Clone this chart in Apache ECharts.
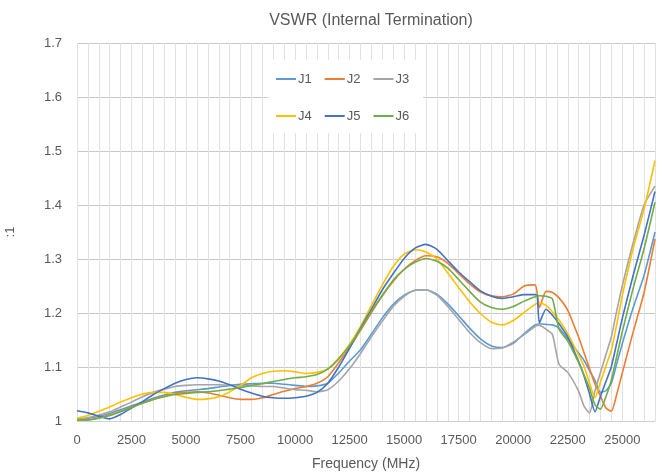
<!DOCTYPE html>
<html>
<head>
<meta charset="utf-8">
<title>VSWR (Internal Termination)</title>
<script src="https://cdn.jsdelivr.net/npm/echarts@6/dist/echarts.min.js"></script>
<style>
  html, body { margin: 0; padding: 0; background: #fff; }
  #chart { width: 658px; height: 474px; }
</style>
</head>
<body>
<div id="chart"></div>
<script>
// frequency points in MHz (shared by all ports)
const freq = [
  0, 500, 1000, 1500, 2000, 2500, 3000, 3500, 4000, 4500, 5000, 5500, 6000, 6500, 7000,
  7500, 8000, 8500, 9000, 9500, 10000, 10500, 11000, 11500, 12000, 12500, 13000, 13500,
  14000, 14500, 15000, 15500, 16000, 16500, 17000, 17500, 18000, 18500, 19000, 19500,
  20000, 20500, 21000, 21100, 21200, 21500, 21800, 22100, 22500, 23000, 23250, 23500,
  23750, 24000, 24250, 24500, 24750, 25000, 25500, 26000, 26500
]

const j1 = [
  1.003, 1.005, 1.009, 1.014, 1.021, 1.028, 1.035, 1.042, 1.048, 1.053, 1.056, 1.058, 1.060, 1.063, 1.066,
  1.068, 1.069, 1.070, 1.070, 1.068, 1.066, 1.064, 1.065, 1.070, 1.089, 1.111, 1.132, 1.161,
  1.191, 1.216, 1.233, 1.242, 1.243, 1.235, 1.217, 1.195, 1.172, 1.152, 1.139, 1.136,
  1.144, 1.162, 1.178, 1.179, 1.180, 1.179, 1.178, 1.172, 1.152, 1.126, 1.112, 1.093,
  1.075, 1.053, 1.056, 1.070, 1.107, 1.143, 1.210, 1.270, 1.350
]
const j2 = [
  1.002, 1.002, 1.006, 1.011, 1.018, 1.026, 1.033, 1.040, 1.046, 1.051, 1.053, 1.054, 1.052, 1.048, 1.043,
  1.040, 1.040, 1.043, 1.049, 1.055, 1.060, 1.064, 1.070, 1.082, 1.108, 1.136, 1.168, 1.201,
  1.232, 1.259, 1.281, 1.297, 1.306, 1.304, 1.292, 1.273, 1.254, 1.239, 1.232, 1.230,
  1.235, 1.250, 1.252, 1.236, 1.210, 1.240, 1.238, 1.228, 1.205, 1.155, 1.126, 1.097,
  1.068, 1.046, 1.024, 1.018, 1.050, 1.089, 1.165, 1.238, 1.337
]
const j3 = [
  1.003, 1.006, 1.011, 1.017, 1.026, 1.035, 1.045, 1.053, 1.059, 1.064, 1.066, 1.067, 1.067, 1.067, 1.066,
  1.065, 1.065, 1.064, 1.064, 1.061, 1.058, 1.057, 1.054, 1.058, 1.074, 1.097, 1.125, 1.156,
  1.185, 1.212, 1.231, 1.242, 1.243, 1.233, 1.212, 1.188, 1.164, 1.145, 1.134, 1.135,
  1.146, 1.160, 1.175, 1.177, 1.177, 1.170, 1.160, 1.105, 1.090, 1.055, 1.027, 1.015,
  1.056, 1.090, 1.123, 1.156, 1.205, 1.250, 1.330, 1.400, 1.435
]
const j4 = [
  1.005, 1.010, 1.018, 1.026, 1.035, 1.043, 1.050, 1.053, 1.053, 1.049, 1.044, 1.040, 1.041, 1.045, 1.054,
  1.066, 1.080, 1.088, 1.092, 1.093, 1.091, 1.088, 1.090, 1.097, 1.116, 1.142, 1.175, 1.214,
  1.252, 1.286, 1.309, 1.317, 1.313, 1.300, 1.274, 1.247, 1.221, 1.199, 1.183, 1.178,
  1.186, 1.201, 1.216, 1.218, 1.219, 1.214, 1.202, 1.187, 1.162, 1.122, 1.101, 1.070,
  1.043, 1.072, 1.102, 1.131, 1.180, 1.232, 1.320, 1.393, 1.482
]
const j5 = [
  1.019, 1.015, 1.009, 1.004, 1.012, 1.024, 1.036, 1.049, 1.060, 1.070, 1.077, 1.080, 1.078, 1.074, 1.067,
  1.059, 1.052, 1.046, 1.043, 1.042, 1.043, 1.046, 1.053, 1.070, 1.100, 1.135, 1.172, 1.207,
  1.243, 1.273, 1.301, 1.320, 1.327, 1.318, 1.297, 1.276, 1.258, 1.241, 1.231, 1.227,
  1.230, 1.234, 1.234, 1.232, 1.182, 1.207, 1.196, 1.180, 1.156, 1.110, 1.083, 1.050,
  1.017, 1.046, 1.073, 1.101, 1.145, 1.190, 1.270, 1.344, 1.425
]
const j6 = [
  1.002, 1.002, 1.005, 1.010, 1.017, 1.025, 1.033, 1.040, 1.045, 1.049, 1.051, 1.053, 1.054, 1.056, 1.059,
  1.062, 1.066, 1.069, 1.073, 1.077, 1.080, 1.082, 1.086, 1.096, 1.115, 1.140, 1.170, 1.203,
  1.233, 1.261, 1.281, 1.294, 1.301, 1.296, 1.283, 1.262, 1.240, 1.220, 1.210, 1.207,
  1.212, 1.222, 1.230, 1.231, 1.232, 1.231, 1.226, 1.170, 1.148, 1.108, 1.085, 1.060,
  1.030, 1.022, 1.045, 1.076, 1.120, 1.165, 1.246, 1.319, 1.405
]

const names = ['J1', 'J2', 'J3', 'J4', 'J5', 'J6']
const values = [j1, j2, j3, j4, j5, j6]
const colors = ['#5B9BD5', '#ED7D31', '#A5A5A5', '#FFC000', '#4472C4', '#70AD47']

const font = 'Liberation Sans'
const textColor = '#595959'

const chart = echarts.init(document.getElementById('chart'))

// two legend rows, the first one carries the white box
const legendBase = {
  orient: 'horizontal',
  icon: 'rect',
  itemWidth: 20,
  itemHeight: 2,
  itemGap: 13,
  textStyle: { color: textColor, fontSize: 13, fontFamily: font, lineHeight: 14, padding: [0, 0, 0, -3] }
}

chart.setOption({
  animation: false,
  color: colors,
  title: {
    text: 'VSWR (Internal Termination)',
    left: 366,
    top: 8,
    textAlign: 'center',
    textStyle: { color: textColor, fontSize: 16, fontWeight: 'normal', fontFamily: font }
  },
  legend: [
    Object.assign({}, legendBase, {
      data: ['J1', 'J2', 'J3'],
      left: 268,
      top: 60,
      padding: [12, 14, 47, 8],
      backgroundColor: '#fff'
    }),
    Object.assign({}, legendBase, {
      data: ['J4', 'J5', 'J6'],
      left: 276,
      top: 109,
      padding: 0
    })
  ],
  grid: { left: 77, right: 3, top: 43, bottom: 53, outerBoundsMode: 'none', containLabel: false },
  xAxis: {
    type: 'value',
    min: 0,
    max: 26500,
    interval: 500,
    name: 'Frequency (MHz)',
    nameLocation: 'middle',
    nameGap: 36,
    nameTextStyle: { color: textColor, fontSize: 14, fontFamily: font },
    axisLine: { show: true, lineStyle: { color: '#d0d0d0' } },
    axisTick: { show: false },
    axisLabel: {
      color: textColor,
      fontSize: 13,
      fontFamily: font,
      margin: 13,
      formatter: v => (v % 2500 === 0 ? String(v) : '')
    },
    splitLine: { show: true, lineStyle: { color: '#e2e2e2', width: 1 } }
  },
  yAxis: {
    type: 'value',
    min: 1,
    max: 1.7,
    interval: 0.1,
    name: ':1',
    nameLocation: 'middle',
    nameGap: 60,
    nameRotate: 90,
    nameTextStyle: { color: textColor, fontSize: 13, fontFamily: font },
    axisLine: { show: false },
    axisTick: { show: false },
    axisLabel: { color: textColor, fontSize: 13, fontFamily: font, margin: 15 },
    splitLine: { show: true, lineStyle: { color: '#c8c8c8', width: 1 } }
  },
  series: names.map((n, i) => ({
    name: n,
    type: 'line',
    symbol: 'none',
    smooth: 0.2,
    lineStyle: { width: 1.6, color: colors[i] },
    data: freq.map((f, k) => [f, values[i][k]])
  }))
})
</script>
</body>
</html>
